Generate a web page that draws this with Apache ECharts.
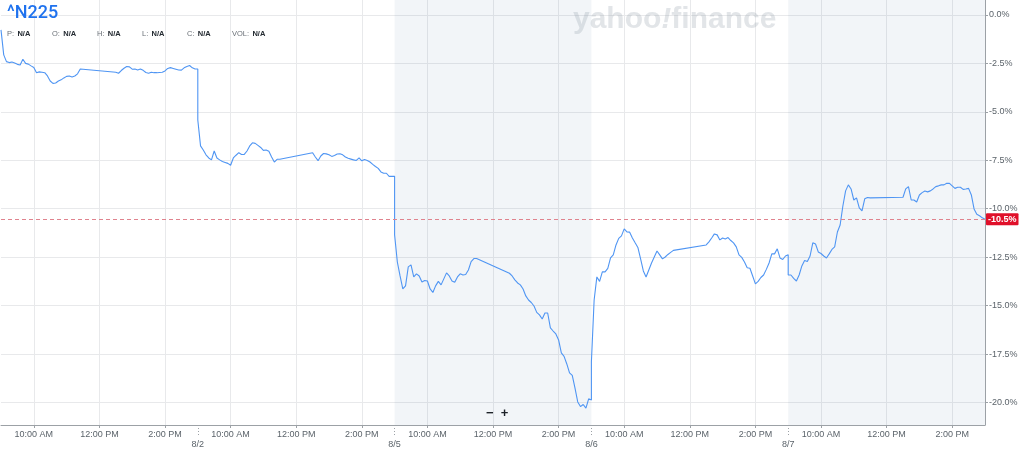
<!DOCTYPE html>
<html><head><meta charset="utf-8">
<script src="https://cdn.jsdelivr.net/npm/echarts@6/dist/echarts.min.js"></script>
<style>html,body{margin:0;padding:0;background:#fff}#c{width:1024px;height:451px}</style>
</head><body><div id="c"></div>
<script>
// ---- data ----
const symbolName = '^N225';
const quoteFields = ['P', 'O', 'H', 'L', 'C', 'VOL'];
const quoteValues = ['N/A', 'N/A', 'N/A', 'N/A', 'N/A', 'N/A'];
const watermarkText = ['yahoo', '!', 'finance'];

// % change, 5-minute steps; AM session 9:00-11:30, PM session 12:30-15:00
const day1AM = [-0.77,-2.06,-2.41,-2.46,-2.43,-2.48,-2.55,-2.58,-2.29,-2.50,-2.54,-2.63,-2.71,-2.98,-2.94,-2.96,-2.98,-3.15,-3.41,-3.53,-3.51,-3.41,-3.35,-3.25,-3.17,-3.15,-3.20,-3.15,-3.04,-2.79,-2.80];
const day1PM = [-2.96,-3.01,-2.87,-2.75,-2.66,-2.68,-2.80,-2.79,-2.84,-2.79,-2.86,-2.97,-3.01,-2.96,-2.98,-2.98,-2.97,-2.96,-2.89,-2.76,-2.72,-2.76,-2.80,-2.84,-2.85,-2.73,-2.66,-2.61,-2.73,-2.79,-2.79];
const day2AM = [-5.42,-6.76,-6.97,-7.22,-7.38,-7.48,-7.02,-7.38,-7.48,-7.56,-7.61,-7.66,-7.76,-7.38,-7.24,-7.11,-7.20,-7.20,-7.02,-6.76,-6.60,-6.63,-6.73,-6.84,-6.99,-6.97,-7.04,-7.33,-7.59,-7.45,-7.45];
const day2PM = [-7.11,-7.33,-7.52,-7.28,-7.15,-7.17,-7.22,-7.30,-7.25,-7.18,-7.16,-7.22,-7.33,-7.40,-7.44,-7.48,-7.51,-7.38,-7.53,-7.46,-7.51,-7.59,-7.71,-7.82,-7.92,-8.10,-8.17,-8.17,-8.33,-8.33,-8.33];
const day3AM = [-11.35,-12.75,-13.47,-14.14,-13.98,-13.00,-12.90,-13.52,-13.36,-13.47,-13.78,-13.70,-13.73,-14.14,-14.32,-13.98,-13.75,-13.93,-13.62,-13.31,-13.47,-13.73,-13.80,-13.52,-13.36,-13.42,-13.39,-13.16,-12.73,-12.57,-12.57];
const day3PM = [-13.33,-13.47,-13.67,-13.83,-13.93,-14.14,-14.50,-14.71,-14.84,-15.02,-15.35,-15.48,-15.69,-15.38,-15.38,-16.15,-16.31,-16.46,-16.77,-17.44,-17.62,-18.01,-18.47,-18.60,-19.26,-19.97,-20.21,-20.10,-20.29,-19.81,-19.87];
const day4AM = [-17.90,-14.71,-13.52,-13.75,-13.26,-13.26,-13.08,-12.54,-12.38,-11.87,-11.53,-11.40,-11.04,-11.20,-11.21,-11.51,-11.76,-12.00,-12.59,-13.21,-13.52,-13.16,-12.80,-12.49,-12.18,-12.38,-12.59,-12.49,-12.36,-12.25,-12.15];
const day4PM = [-11.87,-11.71,-11.51,-11.30,-11.35,-11.61,-11.51,-11.56,-11.49,-11.64,-11.76,-11.97,-12.38,-12.51,-12.75,-13.05,-13.07,-13.47,-13.88,-13.75,-13.55,-13.42,-13.13,-12.80,-12.33,-12.33,-12.07,-12.54,-12.62,-12.44,-12.38];
const day5AM = [-13.42,-13.42,-13.59,-13.73,-13.42,-12.95,-12.67,-12.72,-12.44,-11.76,-11.82,-12.23,-12.31,-12.44,-12.54,-12.33,-12.10,-11.97,-11.20,-10.84,-9.86,-9.08,-8.77,-8.98,-9.55,-9.44,-9.96,-10.11,-9.49,-9.42,-9.44];
const day5PM = [-9.41,-8.98,-8.86,-9.55,-9.55,-9.65,-9.29,-9.17,-9.09,-9.13,-9.08,-8.98,-8.86,-8.82,-8.77,-8.77,-8.69,-8.69,-8.82,-8.95,-8.89,-8.89,-9.00,-8.98,-8.95,-9.29,-10.01,-10.29,-10.36,-10.47,-10.54];

const sessions = [[day1AM, day1PM], [day2AM, day2PM], [day3AM, day3PM], [day4AM, day4PM], [day5AM, day5PM]];
const dayMinutes = 360;          // 9:00 - 15:00
const pmStartMinute = 210;       // 12:30
const stepMinutes = 5;

const timeTickMinutes = [60, 180, 300];
const timeTickLabels = ['10:00 AM', '12:00 PM', '2:00 PM'];
const dateLabels = ['8/2', '8/5', '8/6', '8/7'];
const shadedDays = [2, 4];
const yTicks = [0, -2.5, -5, -7.5, -10, -12.5, -15, -17.5, -20];
const lastLabel = '-10.5%';

// ---- build ----
const points = [];
sessions.forEach((s, d) => {
  s[0].forEach((v, i) => points.push([d * dayMinutes + i * stepMinutes, v]));
  s[1].forEach((v, i) => points.push([d * dayMinutes + pmStartMinute + i * stepMinutes, v]));
});
const lastValue = points[points.length - 1][1];
const timeTicks = [];
const timeTickMap = {};
sessions.forEach((s, d) => timeTickMinutes.forEach((m, k) => {
  timeTicks.push(d * dayMinutes + m);
  timeTickMap[d * dayMinutes + m] = timeTickLabels[k];
}));
const dateTicks = dateLabels.map((l, k) => (k + 1) * dayMinutes);
const dateMap = {};
dateLabels.forEach((l, k) => dateMap[(k + 1) * dayMinutes] = l);

const FONT = '"Liberation Sans", Arial, Helvetica, sans-serif';
const AXIS_COLOR = '#9ca1a6';
const LABEL_COLOR = '#5b636a';
const GRID_COLOR = '#e8e9eb';
const WM_COLOR = 'rgba(150,160,172,0.28)';

const chart = echarts.init(document.getElementById('c'), null, { renderer: 'canvas' });

const headerRich = {
  l: { fontSize: 7.5, fill: '#6a7077', fontFamily: FONT },
  v: { fontSize: 7.5, fill: '#232a31', fontWeight: 'bold', fontFamily: FONT }
};
const headerItems = quoteFields.map((f, k) => ({
  type: 'text', left: 7 + k * 45, top: 28, silent: true, z: 10,
  style: { text: '{l|' + f + ':} {v|' + quoteValues[k] + '}', rich: headerRich }
}));

const option = {
  animation: false,
  backgroundColor: '#ffffff',
  grid: { left: 1, right: 39, top: 0, bottom: 26 },
  xAxis: [{
    type: 'value', min: 0, max: dayMinutes * sessions.length, position: 'bottom',
    axisLine: { show: true, onZero: false, lineStyle: { color: AXIS_COLOR, width: 1 } },
    axisTick: { show: true, length: 3, customValues: timeTicks, lineStyle: { color: AXIS_COLOR } },
    axisLabel: { customValues: timeTicks, formatter: v => timeTickMap[v] || '', color: LABEL_COLOR, fontSize: 9, margin: 5, fontFamily: FONT },
    splitLine: { show: true, lineStyle: { color: GRID_COLOR, width: 1 } }
  }, {
    type: 'value', min: 0, max: dayMinutes * sessions.length, position: 'bottom',
    axisLine: { show: false, onZero: false },
    axisTick: { show: true, length: 12, customValues: dateTicks, lineStyle: { color: AXIS_COLOR, type: [1, 2] } },
    axisLabel: { customValues: dateTicks, formatter: v => dateMap[v] || '', color: LABEL_COLOR, fontSize: 9, margin: 15, fontFamily: FONT },
    splitLine: { show: false }
  }],
  yAxis: {
    type: 'value', position: 'right', min: -21.16, max: 0.77,
    axisLine: { show: true, onZero: false, lineStyle: { color: AXIS_COLOR, width: 1 } },
    axisTick: { show: true, length: 3, customValues: yTicks, lineStyle: { color: AXIS_COLOR } },
    axisLabel: { customValues: yTicks, formatter: v => v.toFixed(1) + '%', color: LABEL_COLOR, fontSize: 9, margin: 4, fontFamily: FONT },
    splitLine: { show: true, lineStyle: { color: GRID_COLOR, width: 1 } }
  },
  series: [{
    type: 'line', xAxisIndex: 0, yAxisIndex: 0, data: points,
    showSymbol: false, symbol: 'none',
    lineStyle: { color: '#4f95f3', width: 1.1 },
    markArea: {
      silent: true,
      itemStyle: { color: 'rgba(0,60,120,0.05)' },
      data: shadedDays.map(d => [{ xAxis: d * dayMinutes }, { xAxis: (d + 1) * dayMinutes }])
    },
    markLine: {
      silent: true, symbol: ['none', 'none'],
      lineStyle: { color: '#e0838e', type: [4, 3], width: 1 },
      label: {
        show: true, position: 'end', distance: 1, formatter: lastLabel,
        backgroundColor: '#e0102a', color: '#ffffff', fontSize: 9, fontWeight: 'bold',
        fontFamily: FONT, padding: [2, 2, 1, 2], borderRadius: 1
      },
      data: [{ yAxis: lastValue }]
    }
  }],
  graphic: [
    {
      type: 'text', left: 573, top: 5, silent: true, z: 10,
      style: {
        text: '{a|' + watermarkText[0] + '}{b|' + watermarkText[1] + '}{a|' + watermarkText[2] + '}',
        rich: {
          a: { fontSize: 30, fontWeight: 'bold', fontFamily: FONT, fill: WM_COLOR },
          b: { fontSize: 30, fontWeight: 'bold', fontStyle: 'italic', fontFamily: FONT, fill: WM_COLOR }
        }
      }
    },
    {
      type: 'text', left: 7, top: 4, silent: true, z: 10,
      style: { text: symbolName, fontSize: 18, fontWeight: 500, fontFamily: 'Roboto, ' + FONT, fill: '#1f72ee' }
    },
    ...headerItems,
    {
      type: 'text', left: 486, top: 407, silent: true, z: 10,
      style: { text: '\u2212  +', fontSize: 13, fontWeight: 'bold', fontFamily: FONT, fill: '#1d2228' }
    }
  ]
};
chart.setOption(option);
</script>
</body></html>
